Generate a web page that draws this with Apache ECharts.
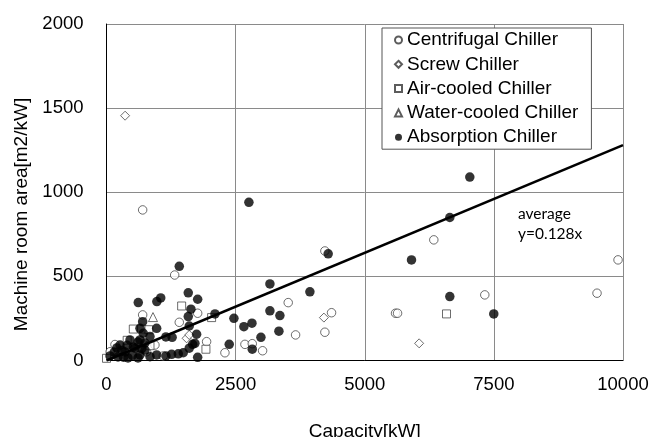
<!DOCTYPE html>
<html>
<head>
<meta charset="utf-8">
<script src="https://cdn.jsdelivr.net/npm/echarts@6/dist/echarts.min.js"></script>
<style>html,body{margin:0;padding:0;background:#fff}#c{width:652px;height:437px}</style>
</head>
<body>
<div id="c"></div>
<script>
const xTicks = [0, 2500, 5000, 7500, 10000];
const yTicks = [0, 500, 1000, 1500, 2000];
const seriesNames = ['Centrifugal Chiller', 'Screw Chiller', 'Air-cooled Chiller', 'Water-cooled Chiller', 'Absorption Chiller'];

const centrifugal = [[700,895],[1320,508],[1765,281],[1409,227],[700,271],[938,92],[1099,27],[1938,112],[2293,46],[164,95],[70,52],[777,52],[4228,651],[3518,344],[4357,284],[3661,152],[4228,168],[2680,96],[2822,100],[3022,58],[5596,281],[5635,281],[6337,717],[9904,598],[7324,390],[9497,400]];
const screw = [[360,1455],[4209,255],[6053,102],[1551,132],[1602,152]];
const airCooled = [[1455,324],[519,187],[680,187],[820,183],[400,120],[0,13],[842,88],[1925,67],[6583,277],[2035,255]];
const waterCooled = [[900,258]];
const absorption = [[2757,940],[4292,634],[3164,455],[3938,408],[3164,295],[3357,267],[2467,251],[2660,201],[2816,222],[3338,174],[2990,138],[2822,67],[2376,96],[5905,598],[7034,1090],[6647,850],[6647,380],[7498,277],
[1409,560],[1583,402],[1765,364],[1050,372],[975,350],[615,344],[1635,305],[2100,277],[1583,261],[1602,205],[971,191],[1745,156],[1150,140],[1271,138],[1668,96],[1602,73],[1712,102],[1765,19],[1486,46],[1390,40],[1261,37],[1150,27],[971,33],[842,23],[648,191],[700,231],[712,162],[648,122],[842,142],
[261,92],[358,51],[455,122],[551,74],[648,33],[223,21],[68,27],[416,15],[610,110],[745,62],[745,104],[610,15],[300,60],[500,30],[150,50],[400,90],[520,80],[680,70],[330,20],[200,75]];
const averageLine = [[0,0],[10000,1280]];
const annotationLines = ['average', 'y=0.128x'];

const FONT = "'Liberation Sans', Arial, sans-serif";
const chart = echarts.init(document.getElementById('c'), null, {renderer: 'canvas'});

function openStyle() { return {color: '#fff', borderColor: '#333', borderWidth: 0.9}; }

chart.setOption({
  animation: false,
  backgroundColor: '#fff',
  textStyle: {fontFamily: FONT},
  grid: {left: 106.5, right: 29, top: 24, bottom: 76.5, containLabel: false, outerBoundsMode: 'none'},
  legend: {
    data: seriesNames,
    orient: 'vertical',
    left: 382, top: 28,
    padding: [2, 13, 2, 12],
    itemWidth: 7, itemHeight: 7, itemGap: 4.3,
    backgroundColor: '#fff', borderColor: '#555', borderWidth: 1,
    selectedMode: false,
    textStyle: {fontFamily: FONT, fontSize: 19, color: '#000', lineHeight: 20}
  },
  xAxis: {
    type: 'value', min: xTicks[0], max: xTicks[xTicks.length - 1], interval: 2500,
    name: 'Capacity[kW]', nameLocation: 'middle', nameGap: 62,
    nameTextStyle: {fontFamily: FONT, fontSize: 19, color: '#000'},
    axisLine: {show: true, lineStyle: {color: '#000', width: 1}},
    axisTick: {show: false},
    axisLabel: {fontFamily: FONT, fontSize: 18.5, color: '#000', margin: 15, formatter: v => String(v)},
    splitLine: {show: true, lineStyle: {color: '#8a8a8a', width: 1}}
  },
  yAxis: {
    type: 'value', min: yTicks[0], max: yTicks[yTicks.length - 1], interval: 500,
    axisLine: {show: true, lineStyle: {color: '#000', width: 1}},
    axisTick: {show: false},
    axisLabel: {fontFamily: FONT, fontSize: 18.5, color: '#000', margin: 23, formatter: v => String(v)},
    splitLine: {show: true, lineStyle: {color: '#8a8a8a', width: 1}}
  },
  graphic: [
    {type: 'text', rotation: Math.PI / 2, x: 22, y: 214.5,
     style: {text: 'Machine room area[m2/kW]', font: "19px 'Liberation Sans', Arial, sans-serif", fill: '#000', align: 'center', verticalAlign: 'middle'}},
    {type: 'text', x: 518, y: 213.5,
     style: {text: annotationLines[0], font: "15.5px Lato, 'Open Sans', sans-serif", fill: '#000', align: 'left', verticalAlign: 'middle'}},
    {type: 'text', x: 518, y: 233.5,
     style: {text: annotationLines[1], font: "15.5px Lato, 'Open Sans', sans-serif", fill: '#000', align: 'left', verticalAlign: 'middle'}}
  ],
  series: [
    {name: seriesNames[0], type: 'scatter', symbol: 'circle', symbolSize: 8.5, data: centrifugal, itemStyle: openStyle(), clip: false},
    {name: seriesNames[1], type: 'scatter', symbol: 'diamond', symbolSize: 9, data: screw, itemStyle: openStyle(), clip: false},
    {name: seriesNames[2], type: 'scatter', symbol: 'rect', symbolSize: 8, data: airCooled, itemStyle: openStyle(), clip: false},
    {name: seriesNames[3], type: 'scatter', symbol: 'triangle', symbolSize: 9, data: waterCooled, itemStyle: openStyle(), clip: false},
    {name: seriesNames[4], type: 'scatter', symbol: 'circle', symbolSize: 9.5, data: absorption, itemStyle: {color: '#000'}, clip: false},
    {name: 'average', type: 'line', data: averageLine, showSymbol: false, symbol: 'none',
     lineStyle: {color: '#000', width: 2.5}, z: 3, silent: true}
  ]
});
</script>
</body>
</html>
